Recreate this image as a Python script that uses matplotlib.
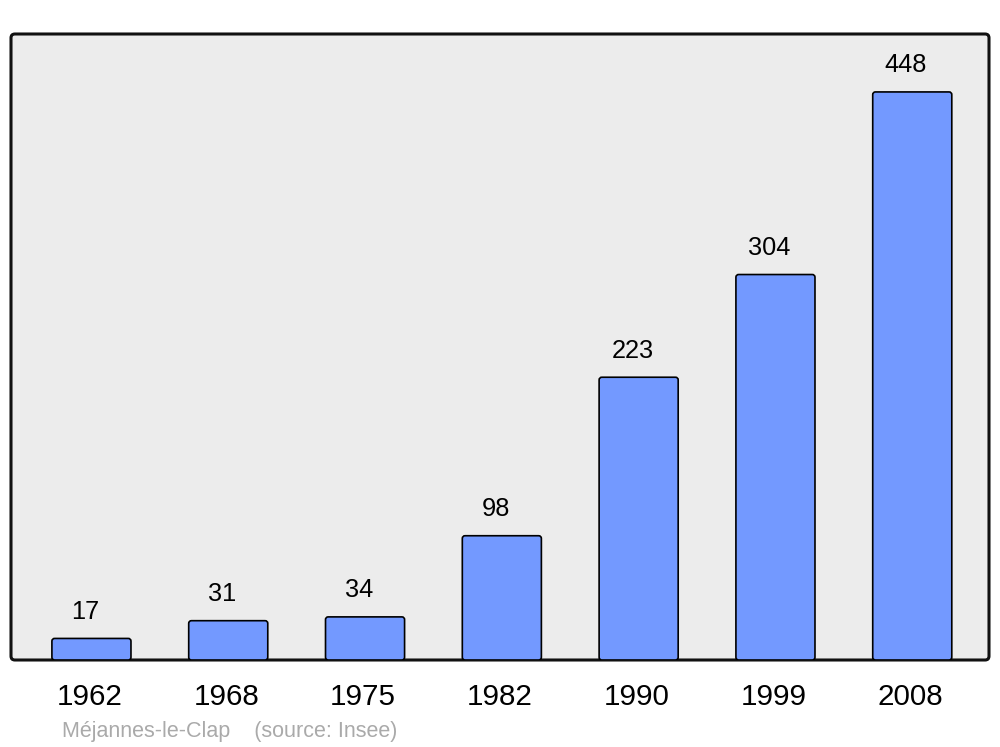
import matplotlib
matplotlib.use("Agg")
import matplotlib.pyplot as plt
import matplotlib.transforms as mtransforms
from matplotlib.patches import FancyBboxPatch

years = ["1962", "1968", "1975", "1982", "1990", "1999", "2008"]
population = [17, 31, 34, 98, 223, 304, 448]
caption = "Méjannes-le-Clap    (source: Insee)"

plt.rcParams['font.family'] = ['Liberation Sans', 'DejaVu Sans']

fig = plt.figure(figsize=(10, 7.47), dpi=100)
ax = fig.add_axes([0.011, 87/747, 0.978, 626/747])
ax.set_xlim(-0.588, 6.561)
ax.set_ylim(0, 626/1.268)
ax.set_facecolor('none')
for s in ax.spines.values():
    s.set_visible(False)

# frame with rounded corners
frame = FancyBboxPatch((0, 0), 1, 1, boxstyle="round,pad=0,rounding_size=0.004",
                       mutation_aspect=978/626, transform=ax.transAxes,
                       facecolor='#ececec', edgecolor='#111111', linewidth=2.2,
                       zorder=0, clip_on=False)
ax.add_patch(frame)

x = list(range(len(years)))
bars = ax.bar(x, population, width=0.578, color='#7399ff', edgecolor='black', linewidth=1.2)
for b in bars:
    bx, by = b.get_x(), b.get_y()
    w, h = b.get_width(), b.get_height()
    b.set_visible(False)
    p = FancyBboxPatch((bx, by), w, h, boxstyle="round,pad=0,rounding_size=0.02",
                       mutation_aspect=(1/1.268)/(1/136.8),
                       facecolor='#7399ff', edgecolor='black', linewidth=1.2, zorder=2)
    ax.add_patch(p)

for xi, v in zip(x, population):
    ax.annotate(str(v), (xi, v), xytext=(-4.5, 10.5), textcoords='offset points',
                ha='center', va='bottom', fontsize=18.3, color='black')

ax.set_xticks(x)
ax.set_xticklabels(years, fontsize=21.3)
ax.tick_params(axis='x', length=0, pad=16.5)
shift = mtransforms.ScaledTranslation(-2/100, 0, fig.dpi_scale_trans)
for lab in ax.get_xticklabels():
    lab.set_transform(lab.get_transform() + shift)
ax.set_yticks([])

fig.text(62/1000, 1 - 737/747, caption, fontsize=15.5, color='#aaaaaa', ha='left', va='baseline')

fig.savefig("out.png", dpi=100, facecolor='white')
